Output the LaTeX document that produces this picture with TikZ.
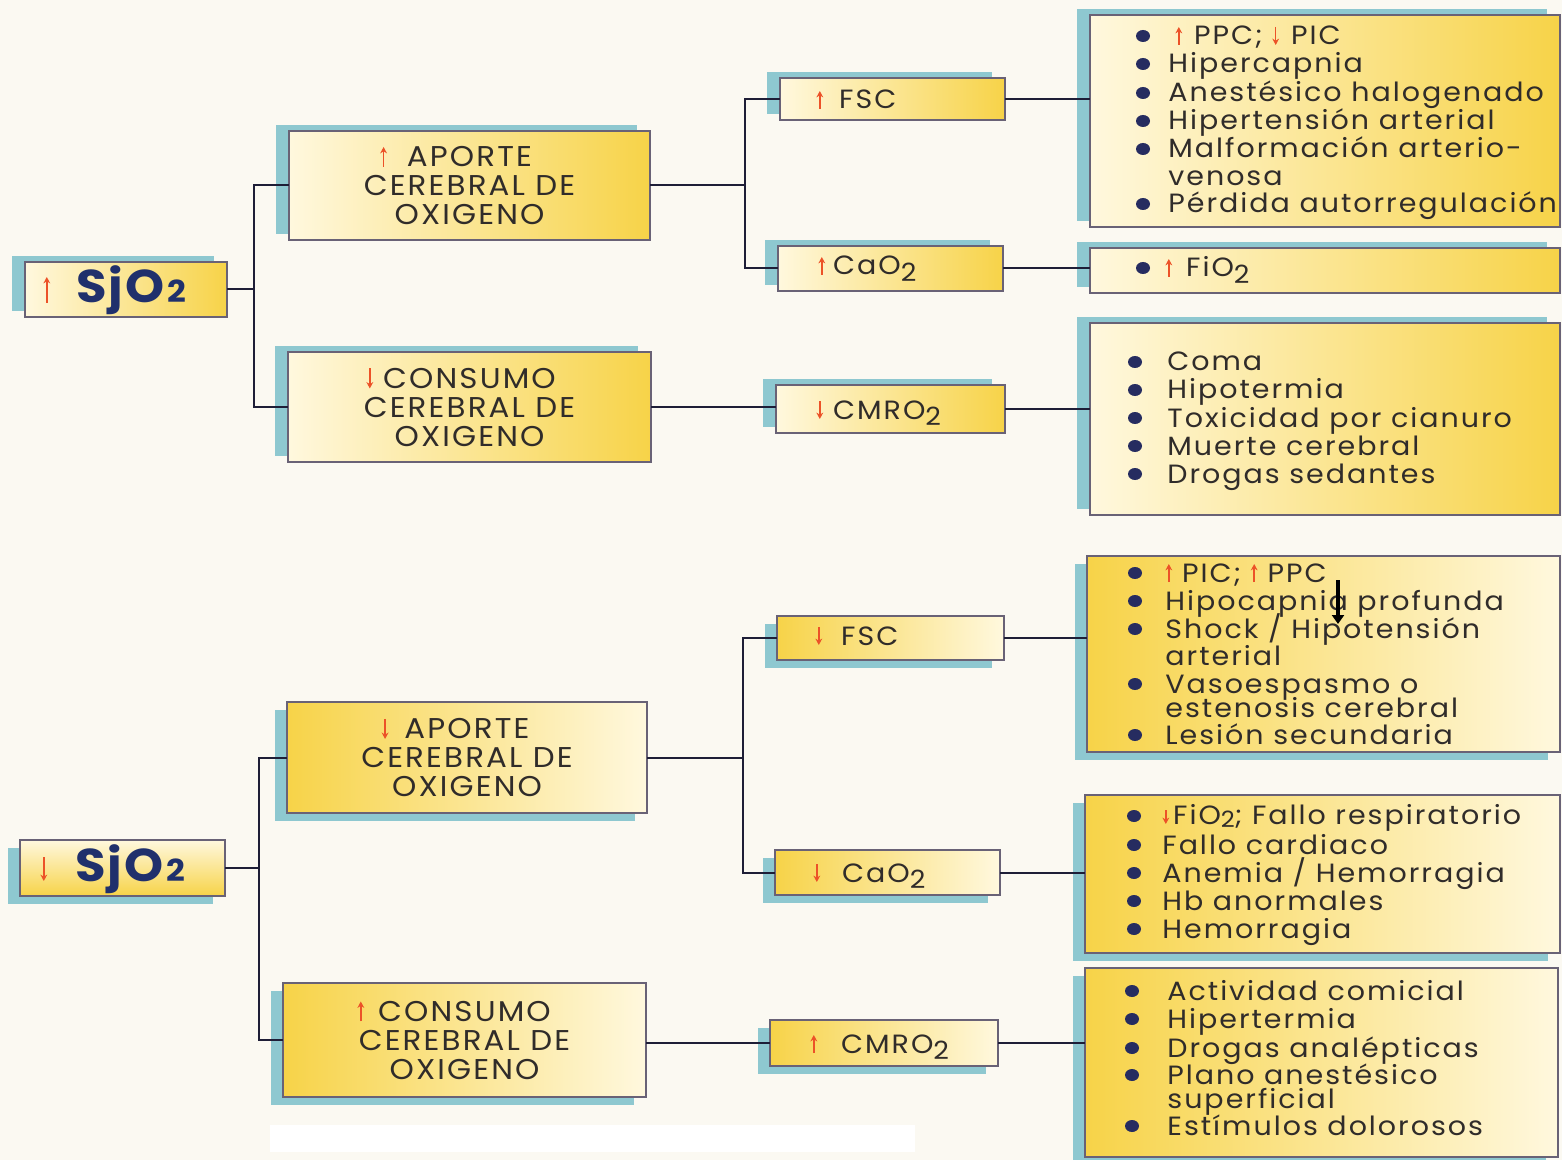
\documentclass[tikz,border=0pt]{standalone}
\usepackage{fontspec}
\usepackage{graphicx}
\setmainfont{Poppins}[FakeStretch=1.08, LetterSpace=7.5]
\usetikzlibrary{arrows.meta,fit}
\definecolor{bgc}{RGB}{251,249,242}
\definecolor{creamc}{RGB}{255,248,222}
\definecolor{yellc}{RGB}{247,211,72}
\definecolor{shadc}{RGB}{142,200,208}
\definecolor{bordc}{RGB}{105,98,118}
\definecolor{connc}{RGB}{30,30,55}
\definecolor{textc}{RGB}{48,44,42}
\definecolor{navyc}{RGB}{32,48,108}
\definecolor{bulc}{RGB}{38,44,96}
\definecolor{arrc}{RGB}{236,82,40}
\newcommand\uar[1][9]{\tikz[baseline=0pt,x=1pt,y=1pt]\draw[arrc,line width=0.75pt,-{Stealth[length=3.2pt,width=3.4pt]}] (0,0)--(0,#1);}
\newcommand\dar[1][9]{\tikz[baseline=0pt,x=1pt,y=1pt]\draw[arrc,line width=0.75pt,-{Stealth[length=3.2pt,width=3.4pt]}] (0,#1)--(0,0);}
\newcommand\two{\raisebox{-0.23em}{\scalebox{0.95}{2}}}
\newcommand\twos{\raisebox{-0.14em}{\scalebox{0.85}{2}}}
\newcommand\sjtwo{\scalebox{0.66}{2}}
\newcommand\bfnt{\fontsize{14.3}{14.4}\selectfont}
\newcommand\lfnt{\fontsize{13.2}{14}\selectfont}
\newcommand\sfnt{\fontsize{13.2}{14}\selectfont}
\newcommand\sjfnt{\fontsize{23}{24}\selectfont\bfseries}
\newcommand\twolines[3]{\vtop{\baselineskip=#1\lineskiplimit=-\maxdimen\hbox{#2}\hbox{#3}}}
\newcommand\boxT[6][]{\fill[shadc] ({#3-13},{#4-6}) rectangle ({#5-13},{#6-6});
  \node[bx, left color=creamc, right color=yellc, #1, fit={(#3,#4) (#5,#6)}] (#2) {};}
\newcommand\boxB[6][]{\fill[shadc] ({#3-12},{#4+8}) rectangle ({#5-12},{#6+8});
  \node[bx, left color=yellc, right color=creamc, #1, fit={(#3,#4) (#5,#6)}] (#2) {};}
\newcommand\blt[2]{\fill[bulc] (#1,#2) ellipse [x radius=7, y radius=6];}
\begin{document}
\begin{tikzpicture}[x=0.5pt,y=-0.5pt,
  bx/.style={draw=bordc, line width=0.7pt, inner sep=0pt, outer sep=0pt, rectangle},
  conn/.style={draw=connc, line width=1pt},
  bt/.style={align=center, inner sep=0pt, font=\bfnt, text=textc},
  st/.style={anchor=base west, inner sep=0pt, font=\sfnt, text=textc},
  lt/.style={anchor=base west, inner sep=0pt, font=\lfnt, text=textc},
  sj/.style={anchor=base west, inner sep=0pt, text=navyc}]
\useasboundingbox (0,0) rectangle (1562,1160);
\fill[bgc] (0,0) rectangle (1562,1160);

% ---------- top half boxes
\boxT{sjA}{25}{262}{227}{317}
\boxT{apoA}{289}{131}{650}{240}
\boxT{conA}{288}{352}{651}{462}
\boxT{fscA}{780}{78}{1005}{120}
\boxT{caoA}{778}{246}{1003}{291}
\boxT{cmrA}{776}{385}{1005}{433}
\boxT{lstA}{1090}{15}{1560}{227}
\boxT{lstB}{1090}{248}{1560}{293}
\boxT{lstC}{1090}{323}{1560}{515}

% ---------- bottom half boxes
\boxB[left color=creamc, right color=creamc, top color=creamc, bottom color=yellc]{sjB}{20}{840}{225}{896}
\boxB{apoB}{287}{702}{647}{813}
\boxB{conB}{283}{983}{646}{1097}
\boxB{fscB}{777}{616}{1004}{660}
\boxB{caoB}{775}{850}{1000}{895}
\boxB{cmrB}{770}{1020}{998}{1066}
\boxB{lstD}{1087}{556}{1560}{752}
\boxB{lstE}{1085}{795}{1560}{953}
\boxB{lstF}{1085}{968}{1558}{1157}

% ---------- connectors top
\coordinate (jA) at (254,289.5);
\draw[conn] (sjA.east) -- (jA);
\draw[conn] (apoA.west) -| (jA) |- (conA.west);
\coordinate (jB) at (745,185.5);
\draw[conn] (apoA.east) -- (jB);
\draw[conn] (fscA.west) -| (jB) |- (caoA.west);
\draw[conn] (conA.east) -- (conA.east -| cmrA.west);
\draw[conn] (fscA.east) -- (fscA.east -| lstA.west);
\draw[conn] (caoA.east) -- (caoA.east -| lstB.west);
\draw[conn] (cmrA.east) -- (cmrA.east -| lstC.west);

% ---------- connectors bottom
\coordinate (jC) at (259,868);
\draw[conn] (sjB.east) -- (jC);
\draw[conn] (apoB.west) -| (jC) |- (conB.west);
\coordinate (jD) at (743,757.5);
\draw[conn] (apoB.east) -- (jD);
\draw[conn] (fscB.west) -| (jD) |- (caoB.west);
\draw[conn] (cmrB.west) -- (cmrB.west -| conB.east);
\draw[conn] (fscB.east) -- (fscB.east -| lstD.west);
\draw[conn] (caoB.east) -- (caoB.east -| lstE.west);
\draw[conn] (cmrB.east) -- (cmrB.east -| lstF.west);

% ---------- box labels top
\node[sj] (sjAt) at (43,303) {\uar[13]\hspace{13pt}{\sjfnt S\kern1pt j\kern1pt O\kern1.5pt\sjtwo}};
\node[bt] (apoAt) at (apoA.center) {\makebox[0pt][r]{\uar[10]\hspace{10pt}}APORTE\\CEREBRAL DE\\OXIGENO};
\node[bt] (conAt) at (conA.center) {\makebox[0pt][r]{\dar[10]\hspace{5pt}}CONSUMO\\CEREBRAL DE\\OXIGENO};
\node[st] (fscAt) at (816,109) {\uar\hspace{8pt}FSC};
\node[st] (caoAt) at (818,275) {\uar\hspace{4pt}CaO\two};
\node[st] (cmrAt) at (816,419) {\dar\hspace{5pt}CMRO\two};

% ---------- box labels bottom
\node[sj] (sjBt) at (40,881) {\dar[12]\hspace{14pt}{\sjfnt S\kern1pt j\kern1pt O\kern1.5pt\sjtwo}};
\node[bt] (apoBt) at (apoB.center) {\makebox[0pt][r]{\dar[10]\hspace{8pt}}APORTE\\CEREBRAL DE\\OXIGENO};
\node[bt] (conBt) at (conB.center) {\makebox[0pt][r]{\uar[10]\hspace{7pt}}CONSUMO\\CEREBRAL DE\\OXIGENO};
\node[st] (fscBt) at (815,645) {\dar\hspace{9.5pt}FSC};
\node[st] (caoBt) at (813,882) {\dar\hspace{11pt}CaO\two};
\node[st] (cmrBt) at (810,1053) {\uar\hspace{12pt}CMRO\two};

% ---------- list A
\foreach \yy in {36,64,93,121,149,204} {\blt{1143}{\yy}}
\node[lt] (a1) at (1175,45) {\uar\hspace{6pt}PPC; \dar\hspace{6pt}PIC};
\node[lt] (a2) at (1168,73) {Hipercapnia};
\node[lt] (a3) at (1168,102) {Anestésico halogenado};
\node[lt] (a4) at (1168,130) {Hipertensión arterial};
\node[lt] (a5) at (1168,158) {\twolines{14pt}{Malformación arterio-}{venosa}};
\node[lt] (a7) at (1168,213) {Pérdida autorregulación};

% ---------- list B
\blt{1143}{268}
\node[lt] (b1) at (1165,277) {\uar\hspace{7pt}FiO\two};

% ---------- list C
\foreach \yy in {362,390,418,446,474} {\blt{1135}{\yy}}
\node[lt] (c1) at (1167,371) {Coma};
\node[lt] (c2) at (1167,399) {Hipotermia};
\node[lt] (c3) at (1167,427) {Toxicidad por cianuro};
\node[lt] (c4) at (1167,455) {Muerte cerebral};
\node[lt] (c5) at (1167,483) {Drogas sedantes};

% ---------- list D
\foreach \yy in {573,601,629,684,735} {\blt{1135}{\yy}}
\node[lt] (d1) at (1165,582) {\uar\hspace{5pt}PIC; \uar\hspace{5pt}PPC};
\node[lt] (d2) at (1165,610) {Hipocapnia profunda};
\node[lt] (d3) at (1165,638) {\twolines{13.5pt}{Shock / Hipotensión}{arterial}};
\node[lt] (d5) at (1165,693) {\twolines{12.3pt}{Vasoespasmo o}{estenosis cerebral}};
\node[lt] (d7) at (1165,744) {Lesión secundaria};
\coordinate (ka) at (1338,580);
\coordinate (kb) at (1338,624);
\draw[black, line width=2pt, -{Triangle[length=4.5pt,width=6pt]}] (ka) -- (kb);

% ---------- list E
\foreach \yy in {816,845,873,901,929} {\blt{1134}{\yy}}
\node[lt] (e1) at (1162,824) {\dar[7]\hspace{2pt}FiO\twos; Fallo respiratorio};
\node[lt] (e2) at (1162,854) {Fallo cardiaco};
\node[lt] (e3) at (1162,882) {Anemia / Hemorragia};
\node[lt] (e4) at (1162,910) {Hb anormales};
\node[lt] (e5) at (1162,938) {Hemorragia};

% ---------- list F
\foreach \yy in {991,1019,1048,1075,1126} {\blt{1132}{\yy}}
\node[lt] (f1) at (1167,1000) {Actividad comicial};
\node[lt] (f2) at (1167,1028) {Hipertermia};
\node[lt] (f3) at (1167,1057) {Drogas analépticas};
\node[lt] (f4) at (1167,1084) {\twolines{12.3pt}{Plano anestésico}{superficial}};
\node[lt] (f6) at (1167,1135) {Estímulos dolorosos};

% white patch at the bottom
\fill[white] (270,1125) rectangle (915,1152);
\end{tikzpicture}
\end{document}
